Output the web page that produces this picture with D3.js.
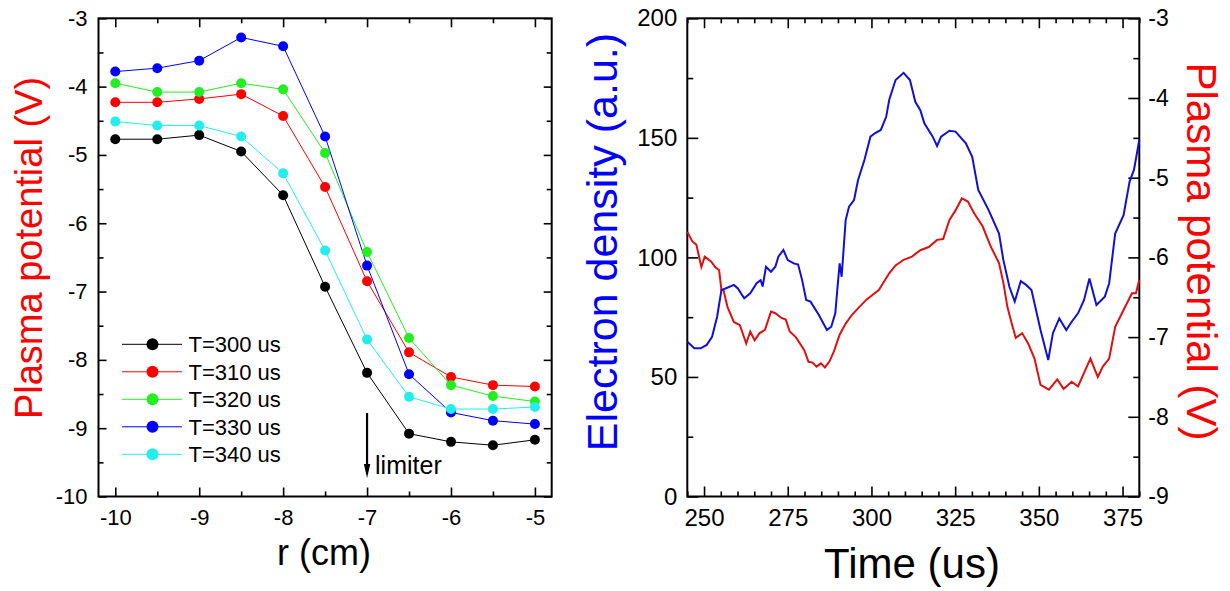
<!DOCTYPE html>
<html>
<head>
<meta charset="utf-8">
<script src="https://cdn.jsdelivr.net/npm/d3@7"></script>
<style>
  body { margin: 0; background: #fff; }
  svg { display: block; font-family: "Liberation Sans", Arial, sans-serif; }
</style>
</head>
<body>
<div class="chart"></div>
<script>
// ---- left panel: plasma potential profiles ----
const rValues = [-10, -9.5, -9, -8.5, -8, -7.5, -7, -6.5, -6, -5.5, -5];
const t300 = [-4.77, -4.77, -4.71, -4.95, -5.59, -6.93, -8.19, -9.08, -9.20, -9.25, -9.17];
const t310 = [-4.23, -4.23, -4.18, -4.11, -4.43, -5.47, -6.85, -7.89, -8.25, -8.37, -8.39];
const t320 = [-3.95, -4.08, -4.08, -3.95, -4.04, -4.97, -6.42, -7.68, -8.37, -8.53, -8.61];
const t330 = [-3.78, -3.73, -3.62, -3.28, -3.41, -4.73, -6.62, -8.21, -8.77, -8.89, -8.94];
const t340 = [-4.51, -4.57, -4.57, -4.73, -5.27, -6.40, -7.70, -8.54, -8.72, -8.72, -8.69];
const seriesNames = ["T=300 us", "T=310 us", "T=320 us", "T=330 us", "T=340 us"];
const seriesColors = ["#000000", "#ff0000", "#22ee22", "#0000ff", "#22eeee"];
const rMajorTicks = [-10, -9, -8, -7, -6, -5];
const rMinorTicks = [-9.5, -8.5, -7.5, -6.5, -5.5];
const potMajorTicks = [-10, -9, -8, -7, -6, -5, -4, -3];
const potMinorTicks = [-9.5, -8.5, -7.5, -6.5, -5.5, -4.5, -3.5];

// ---- right panel: time traces ----
const densityTime = [245, 247.1, 249, 250.8, 252.4, 253.9, 255.2, 256.4, 258.9, 260.1, 262, 263.8, 265.7, 266.9, 267.5, 268.5, 270, 271.3, 272.2, 273.7, 275, 276.8, 278.1, 279.3, 280.5, 281.8, 284.3, 286.7, 288, 289.2, 289.8, 290.5, 291.1, 292.3, 293.3, 294.8, 296, 297.9, 299.7, 301, 302.8, 304.4, 305.3, 307.2, 309.6, 311.5, 313.1, 314.6, 315.8, 318.3, 319.6, 320.8, 323.3, 325.1, 328.2, 330.1, 331.9, 335, 338.1, 339.4, 341.2, 342.8, 344.6, 346.2, 347.8, 350.5, 352.8, 354.2, 356.1, 358.2, 359.8, 361.7, 363.5, 365.1, 367.2, 369.7, 371, 372.8, 375.3, 377.1, 378.4, 380];
const density = [64.7, 62, 62, 63.4, 66.8, 75.2, 86.4, 87, 88.5, 87, 82.9, 85, 89.2, 90.5, 87.8, 96.1, 94, 96.1, 100.3, 103.1, 98.9, 97.5, 97, 90.5, 82.2, 81.5, 75.9, 69.6, 71, 76.6, 86.4, 97.5, 91.9, 115.6, 121.2, 124, 132.4, 140.7, 150.5, 151.9, 153.3, 158.8, 165.8, 174.2, 177.2, 174.2, 165.1, 161.6, 156.1, 150.5, 146.6, 150.5, 153, 152.6, 147.7, 142.1, 128.2, 119.8, 110, 98.9, 87.7, 81.5, 90.1, 88.5, 86.4, 69.6, 57.1, 68.3, 74.5, 69.6, 73.1, 76.6, 82.2, 91.2, 80.1, 83.6, 89.2, 110, 117.7, 131.7, 136.6, 149.1];
const potentialTime = [245, 246.5, 247.7, 249.2, 250.2, 252.1, 253.3, 254.5, 255.2, 255.8, 257, 258.9, 260.7, 262.6, 263.8, 265.1, 266.6, 268.2, 270, 271.3, 273.1, 274.4, 275.6, 277.4, 279.9, 281.2, 282.4, 283.6, 284.9, 286.1, 287.4, 288.8, 290.5, 292.3, 294.2, 296, 298.5, 299.7, 302.2, 305.3, 307.2, 309.6, 312.1, 314.6, 317.1, 319.6, 321.4, 323.3, 325.1, 327, 328.8, 330.7, 333.2, 335.7, 338.1, 339.4, 340.6, 341.9, 343.1, 345, 346.8, 348.7, 350.5, 353, 355.5, 357.4, 359.8, 361.7, 363.5, 365.4, 367.6, 369.1, 371, 372.8, 375.3, 377.8, 379, 380];
const potential = [-5.68, -5.80, -5.84, -6.12, -5.99, -6.05, -6.12, -6.16, -6.41, -6.41, -6.62, -6.81, -6.85, -7.08, -6.93, -7.04, -6.95, -6.91, -6.68, -6.70, -6.76, -6.78, -6.93, -7.0, -7.16, -7.31, -7.32, -7.37, -7.33, -7.38, -7.31, -7.18, -6.97, -6.83, -6.72, -6.64, -6.53, -6.49, -6.41, -6.20, -6.10, -6.03, -5.99, -5.91, -5.87, -5.78, -5.77, -5.53, -5.41, -5.26, -5.30, -5.45, -5.61, -5.87, -6.07, -6.32, -6.62, -6.83, -7.01, -6.95, -7.08, -7.27, -7.60, -7.66, -7.53, -7.65, -7.56, -7.62, -7.45, -7.27, -7.50, -7.37, -7.27, -6.87, -6.66, -6.45, -6.45, -6.28];
const timeMajorTicks = [250, 275, 300, 325, 350, 375];
const timeMinorTicks = d3.range(245, 381, 5).filter(d => d % 25 !== 0);
const densMajorTicks = [0, 50, 100, 150, 200];
const densMinorTicks = [25, 75, 125, 175];
const potRMajorTicks = [-9, -8, -7, -6, -5, -4, -3];
const potRMinorTicks = [-8.5, -7.5, -6.5, -5.5, -4.5, -3.5];

const width = 1230, height = 591;
const plotTop = 18.3, plotBottom = 496.5;

const svg = d3.select(".chart").append("svg")
  .attr("width", width)
  .attr("height", height);

// draws inward ticks on one side of a frame, majors with labels
function sideTicks(g, axisFn, scale, majors, minors, pos, majorLen, minorLen, pad, labels, size) {
  const major = g.append("g")
    .attr("transform", pos)
    .call(axisFn(scale).tickValues(majors).tickSizeInner(-majorLen).tickSizeOuter(0)
      .tickPadding(pad));
  const minor = g.append("g")
    .attr("transform", pos)
    .call(axisFn(scale).tickValues(minors).tickSizeInner(-minorLen).tickSizeOuter(0).tickFormat(""));
  [major, minor].forEach(a => {
    a.select(".domain").remove();
    a.attr("font-size", size || 22).attr("font-family", null);
    a.selectAll("line").attr("stroke", "#000").attr("stroke-width", 1.6);
  });
  // plain hyphen for minus signs, as in the original
  major.selectAll("text").attr("fill", "#000").text(d => labels ? String(d) : "");
}

// ================= left panel =================
const xL = d3.scaleLinear().domain([-10.2, -4.8]).range([98.5, 551.7]);
const yL = d3.scaleLinear().domain([-10, -3]).range([plotBottom, plotTop]);
const gL = svg.append("g");

sideTicks(gL, d3.axisBottom, xL, rMajorTicks, rMinorTicks, `translate(0,${plotBottom})`, 9, 5, 13, true, 22);
sideTicks(gL, d3.axisTop, xL, rMajorTicks, rMinorTicks, `translate(0,${plotTop})`, 9, 5, 0, false);
sideTicks(gL, d3.axisLeft, yL, potMajorTicks, potMinorTicks, `translate(${xL.range()[0]},0)`, 8, 5, 11, true, 22);
sideTicks(gL, d3.axisRight, yL, potMajorTicks, potMinorTicks, `translate(${xL.range()[1]},0)`, 8, 5, 0, false);

gL.append("rect")
  .attr("x", xL.range()[0]).attr("y", plotTop)
  .attr("width", xL.range()[1] - xL.range()[0]).attr("height", plotBottom - plotTop)
  .attr("fill", "none").attr("stroke", "#000").attr("stroke-width", 2);

const allSeries = [t300, t310, t320, t330, t340];
const lineL = d3.line().x((d, i) => xL(rValues[i])).y(d => yL(d));

allSeries.forEach((vals, k) => {
  gL.append("path")
    .datum(vals)
    .attr("d", lineL)
    .attr("fill", "none")
    .attr("stroke", seriesColors[k])
    .attr("stroke-width", 1);
});
allSeries.forEach((vals, k) => {
  gL.selectAll(null)
    .data(vals)
    .enter()
    .append("circle")
    .attr("cx", (d, i) => xL(rValues[i]))
    .attr("cy", d => yL(d))
    .attr("r", 5)
    .attr("fill", seriesColors[k]);
});

// legend
const legend = gL.append("g");
seriesNames.forEach((name, k) => {
  const ly = 344.3 + k * 27.5;
  legend.append("line")
    .attr("x1", 122).attr("x2", 182).attr("y1", ly).attr("y2", ly)
    .attr("stroke", seriesColors[k]).attr("stroke-width", 1);
  legend.append("circle")
    .attr("cx", 152.5).attr("cy", ly).attr("r", 6)
    .attr("fill", seriesColors[k]);
  legend.append("text")
    .attr("x", 188.5).attr("y", ly + 7.8)
    .attr("font-size", 22)
    .text(name);
});

// limiter arrow
const limX = xL(-7);
gL.append("line")
  .attr("x1", limX).attr("x2", limX).attr("y1", 413).attr("y2", 466)
  .attr("stroke", "#000").attr("stroke-width", 2.2);
gL.append("path")
  .attr("d", `M${limX - 3.2},464 L${limX + 3.2},464 L${limX},478 Z`)
  .attr("fill", "#000");
gL.append("text")
  .attr("x", limX + 8).attr("y", 474)
  .attr("font-size", 25)
  .text("limiter");

// titles
gL.append("text")
  .attr("transform", "translate(42,248) rotate(-90)")
  .attr("text-anchor", "middle")
  .attr("font-size", 38)
  .attr("fill", "#ff0000")
  .text("Plasma potential (V)");
gL.append("text")
  .attr("x", 324).attr("y", 565)
  .attr("text-anchor", "middle")
  .attr("font-size", 36)
  .text("r (cm)");

// ================= right panel =================
const xR = d3.scaleLinear().domain([245, 380]).range([687.3, 1139.3]);
const yD = d3.scaleLinear().domain([0, 200]).range([plotBottom, plotTop]);
const yP = d3.scaleLinear().domain([-9, -3]).range([plotBottom, plotTop]);
const gR = svg.append("g");

sideTicks(gR, d3.axisBottom, xR, timeMajorTicks, timeMinorTicks, `translate(0,${plotBottom})`, 10, 5, 12, true, 24);
sideTicks(gR, d3.axisTop, xR, timeMajorTicks, timeMinorTicks, `translate(0,${plotTop})`, 10, 5, 0, false);
sideTicks(gR, d3.axisLeft, yD, densMajorTicks, densMinorTicks, `translate(${xR.range()[0]},0)`, 11, 6, 10, true, 24);
sideTicks(gR, d3.axisRight, yP, potRMajorTicks, potRMinorTicks, `translate(${xR.range()[1]},0)`, 11, 6, 9, true, 23);

gR.append("rect")
  .attr("x", xR.range()[0]).attr("y", plotTop)
  .attr("width", xR.range()[1] - xR.range()[0]).attr("height", plotBottom - plotTop)
  .attr("fill", "none").attr("stroke", "#000").attr("stroke-width", 2);

gR.append("path")
  .datum(potential)
  .attr("d", d3.line().x((d, i) => xR(potentialTime[i])).y(d => yP(d)))
  .attr("fill", "none")
  .attr("stroke", "#e01010")
  .attr("stroke-width", 2);

gR.append("path")
  .datum(density)
  .attr("d", d3.line().x((d, i) => xR(densityTime[i])).y(d => yD(d)))
  .attr("fill", "none")
  .attr("stroke", "#1010d8")
  .attr("stroke-width", 2);

gR.append("text")
  .attr("transform", "translate(617,242) rotate(-90)")
  .attr("text-anchor", "middle")
  .attr("font-size", 43)
  .attr("fill", "#0000ff")
  .text("Electron density (a.u.)");
gR.append("text")
  .attr("transform", "translate(1187,251.5) rotate(90)")
  .attr("text-anchor", "middle")
  .attr("font-size", 42)
  .attr("fill", "#ff0000")
  .text("Plasma potential (V)");
gR.append("text")
  .attr("x", 912).attr("y", 578)
  .attr("text-anchor", "middle")
  .attr("font-size", 42)
  .text("Time (us)");
</script>
</body>
</html>
